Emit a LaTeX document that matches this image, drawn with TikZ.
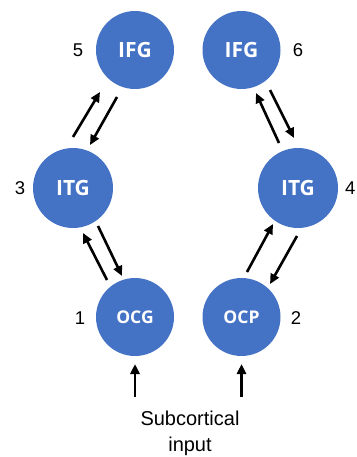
\documentclass[tikz,border=0pt]{standalone}
\usepackage{fontspec}
\setmainfont{Liberation Sans}
\newfontfamily\nodefont{Open Sans}
\usetikzlibrary{arrows.meta,calc}
\definecolor{nodeblue}{HTML}{4472C4}
\tikzset{
  region/.style={circle, fill=nodeblue, minimum size=78pt, inner sep=0pt, text=white, font=\nodefont\bfseries\fontsize{21}{21}\selectfont},
  smallregion/.style={region, font=\nodefont\bfseries\fontsize{17.5}{17.5}\selectfont},
  num/.style={font=\fontsize{18.5}{18.5}\selectfont, inner sep=0pt},
  arr/.style={line width=2.6pt, -{Triangle[length=10pt,width=9pt]}}
}
\begin{document}
\begin{tikzpicture}[x=1pt,y=-1pt]
\useasboundingbox (0,0) rectangle (356,457);
\node[region] (ifgL) at (135,50) {IFG};
\node[region] (ifgR) at (241.5,50) {IFG};
\node[region, minimum size=80pt] (itgL) at (73,188) {ITG};
\node[region, minimum size=80pt] (itgR) at (298,188) {ITG};
\node[smallregion] (ocg) at (135,317) {OCG};
\node[smallregion] (ocp) at (241.5,317) {OCP};
\node[num] (n5) at (78,50) {5};
\node[num] (n6) at (298,50) {6};
\node[num] (n3) at (20,188) {3};
\node[num, anchor=west] (n4) at (345,188) {4};
\node[num] (n1) at (80,318) {1};
\node[num] (n2) at (296,318) {2};
\node[align=center, font=\fontsize{20}{26}\selectfont, inner sep=0pt] (sub) at (190,433) {Subcortical\\input};
\coordinate (inL) at (135,397);
\coordinate (inR) at (241.5,397);
% arrows
\draw[arr] ($(itgL)+(0,-51)$) -- ($(ifgL)+(-35,42)$);
\draw[arr] ($(ifgL)+(-18,47)$) -- ($(itgL)+(17,-43)$);
\draw[arr] ($(itgR)+(-19,-45)$) -- ($(ifgR)+(14.5,43)$);
\draw[arr] ($(ifgR)+(28.5,40)$) -- ($(itgR)+(-4,-50)$);
\draw[arr] ($(ocg)+(-28,-37)$) -- ($(itgL)+(10,45)$);
\draw[arr] ($(itgL)+(25,38)$) -- ($(ocg)+(-13,-41)$);
\draw[arr] ($(ocp)+(5.5,-45)$) -- ($(itgR)+(-25,36)$);
\draw[arr] ($(itgR)+(-1,48)$) -- ($(ocp)+(28.5,-33)$);
\draw[arr] (inL) -- ($(ocg)+(0,47)$);
\draw[arr] (inR) -- ($(ocp)+(0,47)$);
\end{tikzpicture}
\end{document}
